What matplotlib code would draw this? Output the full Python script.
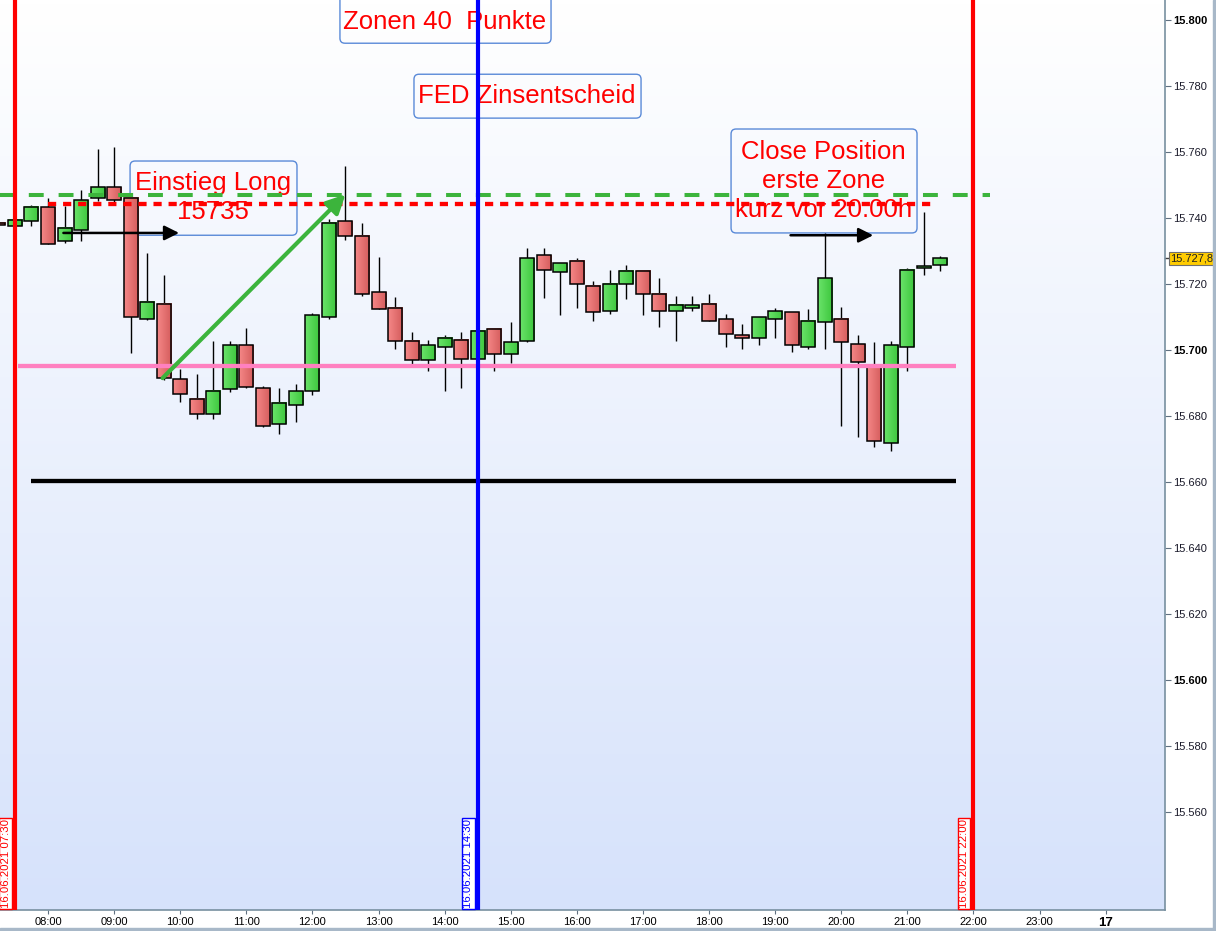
import matplotlib
matplotlib.use('Agg')
import numpy as np
import pandas as pd
import matplotlib.pyplot as plt
import matplotlib.dates as mdates
from matplotlib.colors import LinearSegmentedColormap
from matplotlib.patches import Rectangle, FancyBboxPatch
from matplotlib.ticker import FuncFormatter, FixedLocator
from matplotlib.transforms import IdentityTransform

plt.rcParams['font.family'] = ['Liberation Sans', 'DejaVu Sans']

""" FDAX 15min Kerzen 16.06.2021 mit Zonen und FED Termin """

# 15-Minuten Kerzen ab 07:15
times = pd.date_range('2021-06-16 07:15', periods=58, freq='15min')
opens = [15738.5, 15737.5, 15739.0, 15743.5, 15733.0, 15736.4, 15746.0, 15749.3, 15746.0, 15709.3,
         15714.1, 15691.1, 15685.3, 15680.5, 15688.1, 15701.4, 15688.4, 15677.5, 15683.5, 15687.5,
         15709.9, 15739.0, 15734.5, 15717.5, 15712.9, 15702.9, 15696.9, 15700.8, 15703.2, 15697.2,
         15706.3, 15698.7, 15702.9, 15728.7, 15723.8, 15726.9, 15719.3, 15711.7, 15719.9, 15723.9,
         15716.9, 15711.7, 15712.9, 15714.1, 15709.3, 15704.5, 15703.8, 15709.3, 15711.4, 15700.8,
         15708.4, 15709.3, 15701.7, 15695.5, 15671.7, 15700.8, 15724.8, 15725.7]
highs = [15739.0, 15739.6, 15744.0, 15746.0, 15743.6, 15748.5, 15761.0, 15761.5, 15746.5, 15729.4,
         15722.7, 15694.2, 15692.7, 15702.7, 15702.7, 15706.6, 15689.0, 15688.4, 15689.7, 15711.3,
         15739.6, 15755.8, 15738.5, 15728.2, 15716.1, 15705.5, 15703.2, 15704.5, 15705.5, 15706.0,
         15706.5, 15708.4, 15730.8, 15730.8, 15726.5, 15727.8, 15720.8, 15724.2, 15725.7, 15724.2,
         15721.7, 15716.3, 15716.3, 15716.9, 15710.8, 15707.8, 15710.0, 15712.9, 15711.6, 15712.4,
         15735.4, 15713.2, 15704.7, 15702.3, 15702.9, 15724.8, 15741.7, 15728.4]
lows = [15737.5, 15737.3, 15737.6, 15732.3, 15732.4, 15733.0, 15745.2, 15744.8, 15699.2, 15709.0,
        15691.0, 15684.3, 15679.0, 15679.0, 15687.4, 15688.5, 15676.6, 15674.5, 15678.3, 15686.4,
        15709.3, 15733.5, 15716.5, 15712.6, 15700.4, 15695.8, 15693.7, 15687.7, 15688.6, 15697.0,
        15693.7, 15696.0, 15702.3, 15715.7, 15710.7, 15712.8, 15708.7, 15710.8, 15715.4, 15710.7,
        15706.9, 15702.9, 15711.7, 15708.7, 15700.8, 15700.2, 15701.4, 15703.8, 15699.3, 15700.2,
        15700.2, 15677.1, 15673.7, 15670.7, 15669.3, 15693.7, 15722.9, 15723.9]
closes = [15737.8, 15739.4, 15743.5, 15732.3, 15737.0, 15745.4, 15749.3, 15745.4, 15709.9, 15714.5,
          15691.4, 15686.7, 15680.5, 15687.5, 15701.4, 15688.9, 15677.0, 15684.0, 15687.5, 15710.5,
          15738.4, 15734.5, 15716.9, 15712.6, 15702.6, 15696.9, 15701.4, 15703.8, 15697.2, 15705.7,
          15698.7, 15702.3, 15727.8, 15724.2, 15726.3, 15719.9, 15711.4, 15719.9, 15723.9, 15716.9,
          15711.7, 15713.8, 15713.8, 15708.7, 15704.8, 15703.8, 15709.9, 15711.7, 15701.4, 15708.7,
          15721.7, 15702.3, 15696.3, 15672.3, 15701.4, 15724.2, 15725.4, 15727.8]

last_price = 15727.8
zone_high = 15747.0      # gruen gestrichelt
entry_line = 15744.4     # rot gepunktet
zone_mid = 15695.2       # pink
zone_low = 15660.3       # schwarz
y_ticks = list(range(15560, 15801, 20))

day = '2021-06-16 '
T = lambda s: mdates.date2num(pd.Timestamp(day + s))

fig = plt.figure(figsize=(12.16, 9.31), dpi=100)
ax = fig.add_axes([0, 21 / 931, 1165 / 1216, 910 / 931])
ax.set_xlim(T('07:16:26'), mdates.date2num(pd.Timestamp('2021-06-17 00:53:53')))
ax.set_ylim(15530.3, 15806.1)

# hintergrund verlauf
bg = LinearSegmentedColormap.from_list('bg', ['#d6e2fb', '#ffffff'])
ax.imshow(np.linspace(0, 1, 256).reshape(-1, 1), extent=[0, 1, 0, 1], transform=ax.transAxes,
          cmap=bg, aspect='auto', origin='lower', zorder=0)

# kerzen
x = mdates.date2num(times)
o = np.array(opens)
c = np.array(closes)
width = 0.2118 / 24
up = c >= o
body_lo = np.minimum(o, c)
body_h = np.maximum(np.abs(c - o), 0.3)
green = LinearSegmentedColormap.from_list('g', ['#6ae36a', '#3cc63c'])
red = LinearSegmentedColormap.from_list('r', ['#f58787', '#d45c5c'])
grad = np.linspace(0, 1, 32).reshape(1, -1)

ax.vlines(x, lows, highs, color='black', lw=1, zorder=3)
for xi, lo, h, u in zip(x, body_lo, body_h, up):
    ax.imshow(grad, extent=[xi - width / 2, xi + width / 2, lo, lo + h], cmap=green if u else red,
              aspect='auto', zorder=3.4, interpolation='bilinear')
ax.bar(x, body_h, width, bottom=body_lo, fc='none', edgecolor='black', linewidth=1.1, zorder=3.5)
ax.set_xlim(T('07:16:26'), mdates.date2num(pd.Timestamp('2021-06-17 00:53:53')))
ax.set_ylim(15530.3, 15806.1)

# linien
ax.hlines(zone_high, T('07:00'), T('22:15'), color='#3cb43c', lw=2.9,
          linestyles=(0, (3.7, 3.7)), zorder=5)
ax.hlines(entry_line, T('08:00'), T('21:27'), color='#ff0000', lw=3.1,
          linestyles=(0, (1.9, 1.6)), zorder=5)
ax.hlines(zone_mid, T('07:33'), T('21:44'), color='#ff80c0', lw=3.1, zorder=5)
ax.hlines(zone_low, T('07:45'), T('21:44'), color='black', lw=3.1, zorder=5)

for t, col in [('07:30', '#ff0000'), ('14:30', '#0000ff'), ('22:00', '#ff0000')]:
    ax.axvline(T(t), color=col, lw=3, zorder=6)
    ax.annotate('16.06.2021 ' + t, xy=(T(t), 0), xycoords=('data', 'axes fraction'),
                xytext=(-3.2, 1.5), textcoords='offset points', rotation=90, ha='right', va='bottom',
                color=col, fontsize=8.2,
                bbox=dict(boxstyle='square,pad=0.12', fc='white', ec=col, lw=1), zorder=7)

# pfeile
ax.annotate('', xy=(T('09:59'), 15735.5), xytext=(T('08:14'), 15735.5),
            arrowprops=dict(arrowstyle='-|>', color='black', lw=1.8, mutation_scale=22,
                            shrinkA=0, shrinkB=0), zorder=6)
ax.annotate('', xy=(T('20:29'), 15734.8), xytext=(T('19:14'), 15734.8),
            arrowprops=dict(arrowstyle='-|>', color='black', lw=1.8, mutation_scale=22,
                            shrinkA=0, shrinkB=0), zorder=6)
ax.annotate('', xy=(T('12:30'), 15747.2), xytext=(T('09:44'), 15691.5),
            arrowprops=dict(arrowstyle='-|>', color='#3cb43c', lw=3, mutation_scale=28,
                            shrinkA=0, shrinkB=0), zorder=6)


def note(text, tx, ty, t0, t1, p_top, p_bot):
    # text mit abgerundetem rahmen (rahmen in pixeln, damit die ecken rund bleiben)
    ax.text(T(tx), ty, text, color='#ff0000', fontsize=18.5, ha='center', va='center',
            linespacing=1.26, zorder=2)
    (x0, y0), (x1, y1) = ax.transData.transform([(T(t0), p_bot), (T(t1), p_top)])
    ax.add_patch(FancyBboxPatch((x0, y0), x1 - x0, y1 - y0, boxstyle='round,pad=0,rounding_size=5',
                                transform=IdentityTransform(), fc='none', ec='#5a8ad8', lw=1,
                                zorder=2))


note('Zonen 40  Punkte', '14:00', 15799.4, '12:25', '15:36:36', 15812.0, 15793.0)
note('FED Zinsentscheid', '15:15', 15777.0, '13:32:12', '16:58:18', 15783.6, 15770.3)
note('Einstieg Long\n15735', '10:30', 15746.3, '09:14:30', '11:46', 15757.3, 15734.8)
note('Close Position\nerste Zone\nkurz vor 20.00h', '19:44', 15751.2, '18:20', '21:08:48',
     15767.0, 15735.5)

# achsen
ax.yaxis.tick_right()
ax.yaxis.set_major_locator(FixedLocator(y_ticks))
ax.yaxis.set_major_formatter(FuncFormatter(lambda v, p: f'{v:,.0f}'.replace(',', '.')))
ax.tick_params(axis='y', direction='out', length=4, color='#607080', labelsize=8,
               labelcolor='#1a1a2a', pad=2)
ax.xaxis.set_major_locator(mdates.HourLocator())
ax.xaxis.set_major_formatter(FuncFormatter(
    lambda v, p: mdates.num2date(v).strftime('%d' if mdates.num2date(v).hour == 0 else '%H:%M')))
ax.tick_params(axis='x', direction='out', length=3, color='#607080', labelsize=8, pad=2)

for lab in ax.get_yticklabels():
    if lab.get_text() in ('15.800', '15.700', '15.600'):
        lab.set_fontweight('bold')
        lab.set_color('black')
for lab in ax.get_xticklabels():
    if lab.get_text() == '17':
        lab.set_fontweight('bold')
        lab.set_fontsize(9.5)

ax.annotate(f'{last_price:,.1f}'.replace(',', 'X').replace('.', ',').replace('X', '.'),
            xy=(1, last_price), xycoords=('axes fraction', 'data'), xytext=(3.5, 0),
            textcoords='offset points', ha='left', va='center', fontsize=8, color='#202020',
            bbox=dict(boxstyle='square,pad=0.12', fc='#ffcc00', ec='#707070', lw=0.8),
            annotation_clip=False)
ax.plot([1, 1.004], [last_price, last_price], transform=ax.get_yaxis_transform(), color='#404040',
        lw=1, clip_on=False)

for s in ('left', 'top'):
    ax.spines[s].set_visible(False)
for s in ('right', 'bottom'):
    ax.spines[s].set_color('#7890a0')
    ax.spines[s].set_linewidth(1.2)

fig.patches.append(Rectangle((0, 0), 1, 3 / 931, transform=fig.transFigure, color='#a8b8c8'))
fig.patches.append(Rectangle((1213 / 1216, 0), 3 / 1216, 1, transform=fig.transFigure, color='#a8b8c8'))

plt.savefig('out.png', dpi=100)
